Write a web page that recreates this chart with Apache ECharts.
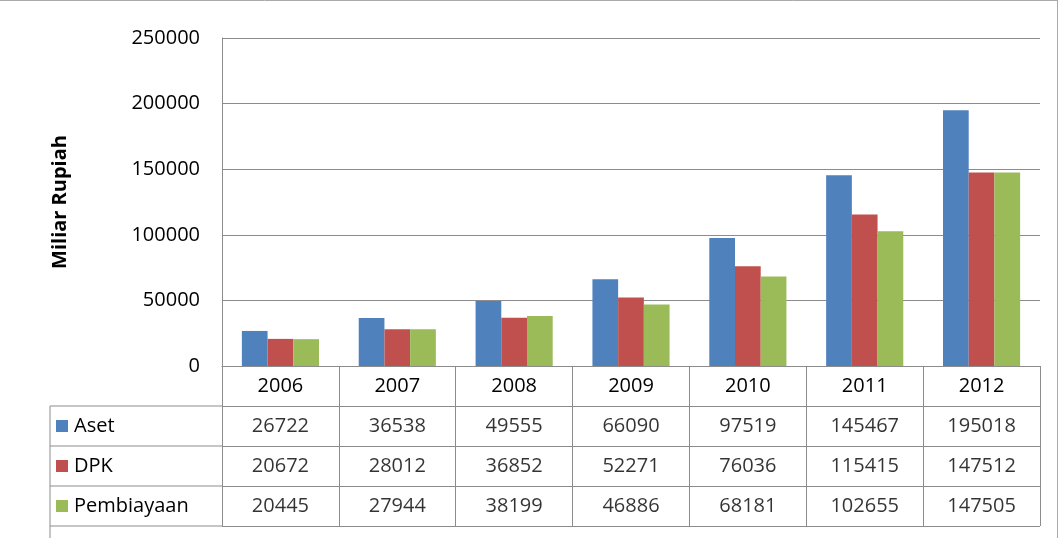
<!DOCTYPE html>
<html><head><meta charset="utf-8">
<script src="https://cdn.jsdelivr.net/npm/echarts@6/dist/echarts.min.js"></script>
<style>html,body{margin:0;padding:0;background:#fff}#c{width:1058px;height:538px}</style>
</head><body><div id="c"></div>
<script>
const years = ['2006','2007','2008','2009','2010','2011','2012'];
const seriesNames = ['Aset','DPK','Pembiayaan'];
const aset = [26722,36538,49555,66090,97519,145467,195018];
const dpk = [20672,28012,36852,52271,76036,115415,147512];
const pembiayaan = [20445,27944,38199,46886,68181,102655,147505];
const colors = ['#4F81BD','#C0504D','#9BBB59'];
const yTicks = {min:0,max:250000,interval:50000};

const all = [aset,dpk,pembiayaan];
const font = 'Open Sans';
const fs = 20;
const tableData = [];
all.forEach((arr,r)=>arr.forEach((v,c)=>tableData.push([c,r,v])));
const rich = {};
colors.forEach((c,i)=>rich['m'+i]={backgroundColor:c,width:12,height:12});
rich.t={fontSize:fs,fontFamily:font,color:'#000',padding:[0,0,0,6]};

const chart = echarts.init(document.getElementById('c'));
const lineStyle={stroke:'#8c8c8c',lineWidth:1};
chart.setOption({
  animation:false,
  textStyle:{fontFamily:font},
  grid:[{left:222,right:18,top:38,bottom:172},{left:222,right:18,top:406,height:120}],
  xAxis:[
    {type:'category',data:years,gridIndex:0,
     axisLine:{lineStyle:{color:'#8c8c8c'}},
     axisTick:{show:true,length:40,lineStyle:{color:'#8c8c8c'}},
     axisLabel:{fontSize:fs,color:'#000',margin:10,fontFamily:font}},
    {type:'category',data:years,gridIndex:1,
     axisLine:{show:false},axisTick:{show:false},axisLabel:{show:false},
     splitLine:{show:true,lineStyle:{color:'#8c8c8c'}}}
  ],
  yAxis:[
    {type:'value',gridIndex:0,min:yTicks.min,max:yTicks.max,interval:yTicks.interval,
     name:'Miliar Rupiah',nameLocation:'middle',nameGap:152,nameRotate:90,
     nameTextStyle:{fontSize:fs,fontWeight:'bold',color:'#000',fontFamily:font},
     axisLine:{show:true,lineStyle:{color:'#8c8c8c'}},
     axisLabel:{fontSize:fs,color:'#000',margin:22,fontFamily:font,formatter:v=>String(v)},
     splitLine:{lineStyle:{color:'#8c8c8c'}}},
    {type:'category',gridIndex:1,data:seriesNames,inverse:true,
     axisLine:{show:true,lineStyle:{color:'#8c8c8c'}},axisTick:{show:false},
     splitLine:{show:true,lineStyle:{color:'#8c8c8c'}},
     axisLabel:{align:'left',margin:166,
       formatter:(v,i)=>'{m'+i+'|}{t|'+v+'}',rich:rich}}
  ],
  series:[
    ...all.map((arr,i)=>({type:'bar',name:seriesNames[i],data:arr,
      xAxisIndex:0,yAxisIndex:0,barGap:'0%',barCategoryGap:'34%',
      itemStyle:{color:colors[i]}})),
    {type:'scatter',xAxisIndex:1,yAxisIndex:1,data:tableData,symbolSize:1,
     itemStyle:{color:'transparent'},
     label:{show:true,position:'inside',formatter:p=>p.value[2],fontSize:fs,color:'#000',fontFamily:font}}
  ],
  graphic:[
    {type:'line',shape:{x1:50,y1:406,x2:222,y2:406},style:lineStyle},
    {type:'line',shape:{x1:50,y1:446,x2:222,y2:446},style:lineStyle},
    {type:'line',shape:{x1:50,y1:486,x2:222,y2:486},style:lineStyle},
    {type:'line',shape:{x1:50,y1:526,x2:222,y2:526},style:lineStyle},
    {type:'line',shape:{x1:50,y1:406,x2:50,y2:538},style:lineStyle},
    {type:'line',shape:{x1:0,y1:0.5,x2:1058,y2:0.5},style:{stroke:'#aaa',lineWidth:1}},
    {type:'line',shape:{x1:1057.5,y1:0,x2:1057.5,y2:538},style:{stroke:'#aaa',lineWidth:1}}
  ]
});
</script></body></html>
